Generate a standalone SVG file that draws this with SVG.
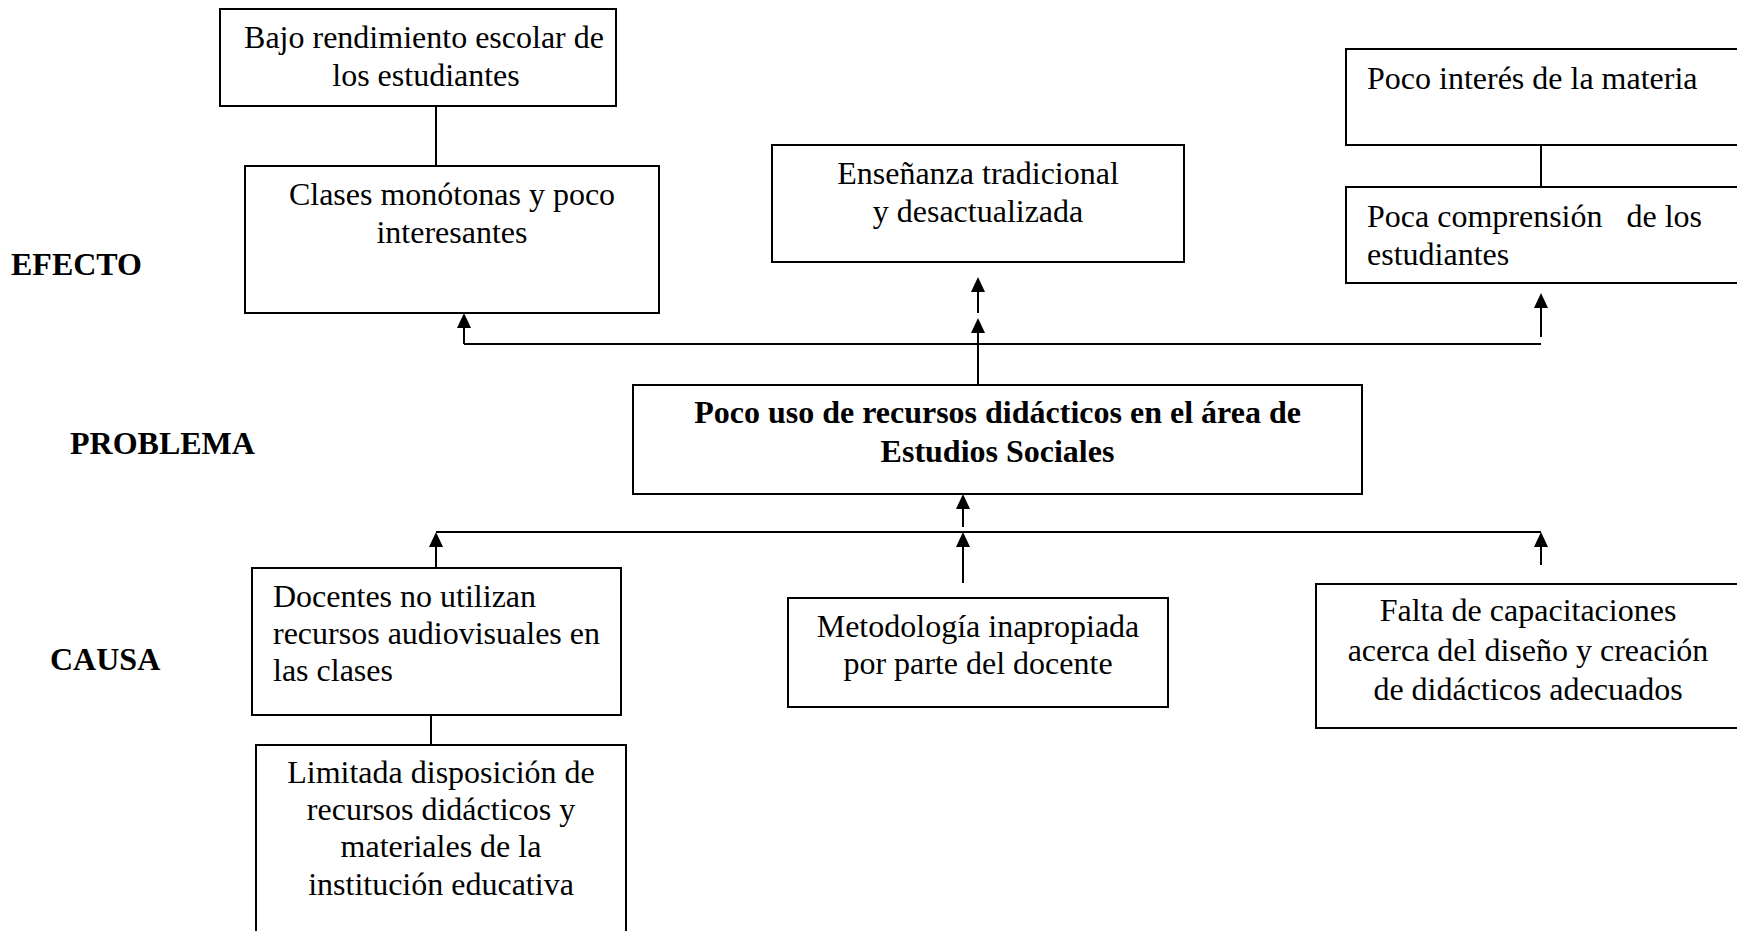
<svg xmlns="http://www.w3.org/2000/svg" width="1737" height="931" viewBox="0 0 1737 931">
  <style>
    .box { fill: #ffffff; stroke: #000000; stroke-width: 2; }
    .t { font-family: "Liberation Serif", "Times New Roman", serif; font-size: 32px; fill: #000000; }
    .c { text-anchor: middle; }
    .b { font-weight: bold; }
    .ln { stroke: #000000; stroke-width: 2; fill: none; }
    .ar { stroke: #000000; stroke-width: 2; fill: none; marker-end: url(#ah); }
  </style>
  <defs>
    <marker id="ah" viewBox="0 0 15 14" refX="5" refY="7" markerWidth="15" markerHeight="14" markerUnits="userSpaceOnUse" orient="auto">
      <path d="M0,0 L15,7 L0,14 Z" fill="#000000"/>
    </marker>
  </defs>
  <rect x="0" y="0" width="1737" height="931" fill="#ffffff"/>

  <g id="labels">
    <text class="t b" x="11" y="275">EFECTO</text>
    <text class="t b" x="70" y="454">PROBLEMA</text>
    <text class="t b" x="50" y="670">CAUSA</text>
  </g>

  <g id="connectors">
    <line class="ln" x1="436" y1="106" x2="436" y2="166"/>
    <line class="ln" x1="1541" y1="145" x2="1541" y2="187"/>
    <line class="ln" x1="431" y1="715" x2="431" y2="745"/>
    <line class="ln" x1="464" y1="344" x2="1541" y2="344"/>
    <line class="ar" x1="464" y1="344" x2="464" y2="323"/>
    <line class="ar" x1="1541" y1="337" x2="1541" y2="303"/>
    <line class="ar" x1="978" y1="385" x2="978" y2="328"/>
    <line class="ar" x1="978" y1="313" x2="978" y2="287"/>
    <line class="ln" x1="436" y1="532" x2="1541" y2="532"/>
    <line class="ar" x1="436" y1="568" x2="436" y2="542"/>
    <line class="ar" x1="963" y1="583" x2="963" y2="542"/>
    <line class="ar" x1="963" y1="527" x2="963" y2="504"/>
    <line class="ar" x1="1541" y1="565" x2="1541" y2="542"/>
  </g>

  <g id="bajo">
    <rect class="box" x="220" y="9" width="396" height="97"/>
    <text class="t c" x="424" y="48">Bajo rendimiento escolar de</text>
    <text class="t c" x="426" y="86">los estudiantes</text>
  </g>

  <g id="clases">
    <rect class="box" x="245" y="166" width="414" height="147"/>
    <text class="t c" x="452" y="205">Clases monótonas y poco</text>
    <text class="t c" x="452" y="243">interesantes</text>
  </g>

  <g id="ensenanza">
    <rect class="box" x="772" y="145" width="412" height="117"/>
    <text class="t c" x="978" y="184">Enseñanza tradicional</text>
    <text class="t c" x="978" y="222">y desactualizada</text>
  </g>

  <g id="interes">
    <rect class="box" x="1346" y="49" width="396" height="96"/>
    <text class="t" x="1367" y="89">Poco interés de la materia</text>
  </g>

  <g id="comprension">
    <rect class="box" x="1346" y="187" width="396" height="96"/>
    <text class="t" x="1367" y="227" style="white-space:pre">Poca comprensión   de los</text>
    <text class="t" x="1367" y="265">estudiantes</text>
  </g>

  <g id="problema">
    <rect class="box" x="633" y="385" width="729" height="109"/>
    <text class="t c b" x="997.5" y="423">Poco uso de recursos didácticos en el área de</text>
    <text class="t c b" x="997.5" y="462">Estudios Sociales</text>
  </g>

  <g id="docentes">
    <rect class="box" x="252" y="568" width="369" height="147"/>
    <text class="t" x="273" y="607">Docentes no utilizan</text>
    <text class="t" x="273" y="644">recursos audiovisuales en</text>
    <text class="t" x="273" y="681">las clases</text>
  </g>

  <g id="limitada">
    <rect class="box" x="256" y="745" width="370" height="200"/>
    <text class="t c" x="441" y="783">Limitada disposición de</text>
    <text class="t c" x="441" y="820">recursos didácticos y</text>
    <text class="t c" x="441" y="857">materiales de la</text>
    <text class="t c" x="441" y="895">institución educativa</text>
  </g>

  <g id="metodologia">
    <rect class="box" x="788" y="598" width="380" height="109"/>
    <text class="t c" x="978" y="637">Metodología inapropiada</text>
    <text class="t c" x="978" y="674">por parte del docente</text>
  </g>

  <g id="falta">
    <rect class="box" x="1316" y="584" width="426" height="144"/>
    <text class="t c" x="1528" y="621">Falta de capacitaciones</text>
    <text class="t c" x="1528" y="661">acerca del diseño y creación</text>
    <text class="t c" x="1528" y="700">de didácticos adecuados</text>
  </g>
</svg>
